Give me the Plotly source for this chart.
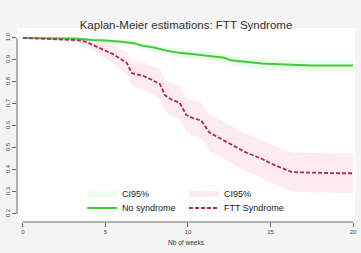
import plotly.graph_objects as go

# --- data ---
nosyn_weeks = [0, 3.2, 4.2, 5.0, 6.0, 6.8, 7.2, 8.0, 8.8, 9.5, 10.5, 11.5, 12.2, 12.6, 13.6, 14.5, 15.5, 17.5, 20]
nosyn_surv = [1.0, 0.997, 0.99, 0.988, 0.982, 0.975, 0.965, 0.955, 0.94, 0.932, 0.925, 0.918, 0.91, 0.898, 0.89, 0.884, 0.88, 0.875, 0.875]
nosyn_lower = [1.0, 0.992, 0.982, 0.978, 0.97, 0.962, 0.95, 0.938, 0.921, 0.912, 0.903, 0.895, 0.886, 0.873, 0.864, 0.857, 0.852, 0.846, 0.846]
nosyn_upper = [1.0, 1.0, 0.996, 0.995, 0.991, 0.986, 0.978, 0.969, 0.956, 0.949, 0.943, 0.937, 0.930, 0.919, 0.912, 0.907, 0.903, 0.899, 0.899]

ftt_weeks = [0, 3.3, 3.8, 4.3, 4.6, 5.0, 5.5, 5.9, 6.3, 6.6, 7.3, 7.8, 8.3, 8.6, 9.0, 9.5, 9.9, 10.3, 10.8, 11.3, 11.8, 12.3, 12.9, 13.5, 14.0, 14.5, 15.0, 15.6, 16.3, 19.2, 20]
ftt_surv = [1.0, 0.99, 0.983, 0.965, 0.955, 0.942, 0.925, 0.905, 0.885, 0.84, 0.827, 0.81, 0.79, 0.74, 0.72, 0.705, 0.65, 0.635, 0.625, 0.57, 0.55, 0.527, 0.505, 0.48, 0.465, 0.45, 0.43, 0.41, 0.39, 0.385, 0.385]
ftt_lower = [1.0, 0.98, 0.968, 0.94, 0.925, 0.907, 0.885, 0.86, 0.835, 0.78, 0.765, 0.745, 0.722, 0.668, 0.646, 0.629, 0.572, 0.556, 0.545, 0.489, 0.468, 0.444, 0.421, 0.395, 0.379, 0.364, 0.343, 0.322, 0.301, 0.295, 0.295]
ftt_upper = [1.0, 1.0, 0.998, 0.99, 0.985, 0.977, 0.965, 0.95, 0.935, 0.90, 0.889, 0.875, 0.858, 0.812, 0.794, 0.781, 0.728, 0.714, 0.705, 0.651, 0.632, 0.61, 0.589, 0.565, 0.551, 0.536, 0.517, 0.498, 0.479, 0.475, 0.475]

x_ticks = [0, 5, 10, 15, 20]
y_ticks = [0.2, 0.3, 0.4, 0.5, 0.6, 0.7, 0.8, 0.9, 1.0]

GREEN = "#3ccc3c"
GREEN_BAND = "rgba(200,245,200,0.3)"
RED = "#b5264f"
PINK_BAND = "rgba(250,210,225,0.45)"
FONT = "Liberation Sans, Arial, sans-serif"

fig = go.Figure()

# green CI band
fig.add_trace(go.Scatter(x=nosyn_weeks, y=nosyn_upper, mode="lines", line=dict(width=0),
                         showlegend=False, hoverinfo="skip", legend="legend"))
fig.add_trace(go.Scatter(x=nosyn_weeks, y=nosyn_lower, mode="lines", line=dict(width=0),
                         fill="tonexty", fillcolor=GREEN_BAND, name="CI95%", legend="legend"))
# pink CI band
fig.add_trace(go.Scatter(x=ftt_weeks, y=ftt_upper, mode="lines", line=dict(width=0),
                         showlegend=False, hoverinfo="skip", legend="legend2"))
fig.add_trace(go.Scatter(x=ftt_weeks, y=ftt_lower, mode="lines", line=dict(width=0),
                         fill="tonexty", fillcolor=PINK_BAND, name="CI95%", legend="legend2"))
# curves
fig.add_trace(go.Scatter(x=nosyn_weeks, y=nosyn_surv, mode="lines", line=dict(color=GREEN, width=2),
                         name="No syndrome", legend="legend3"))
fig.add_trace(go.Scatter(x=ftt_weeks, y=ftt_surv, mode="lines",
                         line=dict(color=RED, width=1.8, dash="4px,2px"),
                         name="FTT Syndrome", legend="legend4"))

# R-style axis lines spanning only between first and last ticks
fig.add_shape(type="line", xref="x", yref="paper", x0=x_ticks[0], x1=x_ticks[-1], y0=0, y1=0,
              line=dict(color="#666666", width=1))
fig.add_shape(type="line", xref="paper", yref="y", x0=0, x1=0, y0=y_ticks[0], y1=y_ticks[-1],
              line=dict(color="#666666", width=1))

legend_common = dict(bgcolor="rgba(0,0,0,0)", font=dict(family=FONT, size=9, color="#222222"),
                     yanchor="top", xanchor="left", tracegroupgap=0, itemwidth=30,
                     orientation="v", traceorder="normal")

fig.update_layout(
    width=361, height=253,
    margin=dict(l=17, r=4, t=28, b=31),
    paper_bgcolor="#f4f4f4",
    plot_bgcolor="#ffffff",
    title=dict(text="Kaplan-Meier estimations: FTT Syndrome", x=0.5, xref="paper", xanchor="center",
               y=0.901, yref="container", yanchor="middle",
               font=dict(family=FONT, size=11.5, color="#333333")),
    xaxis=dict(range=[-0.36, 20.12], tickvals=x_ticks, ticks="outside", ticklen=4, tickwidth=1,
               tickcolor="#666666", showgrid=False, zeroline=False, showline=False,
               tickfont=dict(family=FONT, size=6, color="#444444"),
               title=dict(text="Nb of weeks", font=dict(family=FONT, size=6.5, color="#333333"), standoff=6)),
    yaxis=dict(range=[0.1636, 1.045], tickvals=y_ticks, tickformat=".1f", ticks="outside", ticklen=4,
               tickwidth=1, tickcolor="#666666", showgrid=False, zeroline=False, showline=False,
               tickangle=-90, tickfont=dict(family=FONT, size=6, color="#444444")),
    legend=dict(x=0.1925, y=0.224, **legend_common),
    legend2=dict(x=0.494, y=0.224, **legend_common),
    legend3=dict(x=0.1925, y=0.147, **legend_common),
    legend4=dict(x=0.494, y=0.147, **legend_common),
)

fig.write_html("out.html", config={"displayModeBar": False},
               post_script="document.body.style.margin='0';document.body.style.background='#f4f4f4';")
